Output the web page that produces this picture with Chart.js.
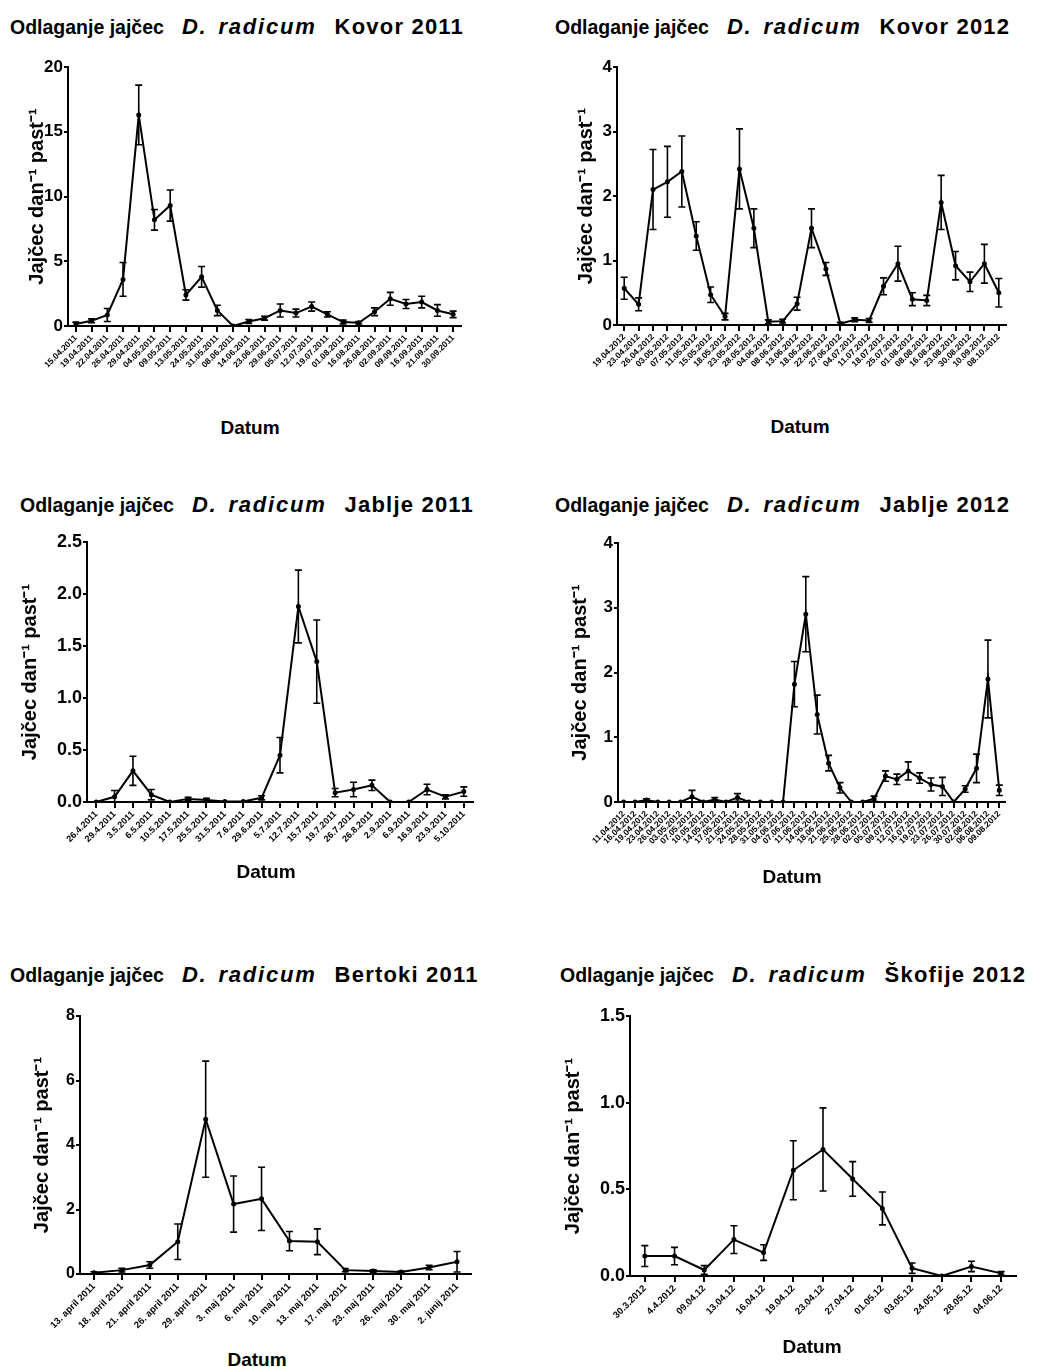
<!DOCTYPE html>
<html>
<head>
<meta charset="utf-8">
<script src="https://cdn.jsdelivr.net/npm/chart.js@4"></script>
<style>
  body { margin: 0; background: #fff; width: 1048px; height: 1367px; overflow: hidden; position: relative; font-family: "Liberation Sans", Arial, sans-serif; }
  canvas { position: absolute; }
  .ttl { position: absolute; font-weight: bold; line-height: 24px; white-space: nowrap; color: #000; display: flex; align-items: baseline; gap: 18px; }
  .ttl .a { font-size: 19.5px; }
  .ttl .b { font-size: 22px; font-style: italic; letter-spacing: 1.8px; word-spacing: 3px; }
  .ttl .c { font-size: 22px; letter-spacing: 1.2px; }
  .xt { position: absolute; font-weight: bold; font-size: 19px; line-height: 24px; transform: translateX(-50%); color: #000; }
</style>
</head>
<body>

<script>
// ---- Kovor 2011
const kovor11Labels = ['15.04.2011','19.04.2011','22.04.2011','26.04.2011','29.04.2011','04.05.2011','09.05.2011','13.05.2011','24.05.2011','31.05.2011','08.06.2011','14.06.2011','23.06.2011','29.06.2011','05.07.2011','12.07.2011','19.07.2011','01.08.2011','16.08.2011','26.08.2011','02.09.2011','09.09.2011','16.09.2011','21.09.2011','30.09.2011'];
const kovor11Mean = [0.15, 0.4, 0.85, 3.6, 16.3, 8.2, 9.3, 2.4, 3.8, 1.2, 0.0, 0.35, 0.6, 1.2, 1.0, 1.5, 0.9, 0.3, 0.25, 1.1, 2.1, 1.7, 1.85, 1.2, 0.9];
const kovor11Err  = [0.15, 0.15, 0.5, 1.3, 2.3, 0.8, 1.2, 0.4, 0.8, 0.4, 0, 0.15, 0.15, 0.5, 0.3, 0.35, 0.2, 0.15, 0.1, 0.3, 0.5, 0.35, 0.45, 0.45, 0.25];

// ---- Kovor 2012
const kovor12Labels = ['19.04.2012','23.04.2012','26.04.2012','03.05.2012','07.05.2012','11.05.2012','15.05.2012','18.05.2012','23.05.2012','28.05.2012','04.06.2012','08.06.2012','13.06.2012','18.06.2012','22.06.2012','27.06.2012','04.07.2012','11.07.2012','18.07.2012','25.07.2012','01.08.2012','08.08.2012','16.08.2012','23.08.2012','30.08.2012','10.09.2012','08.10.2012'];
const kovor12Mean = [0.57, 0.32, 2.1, 2.22, 2.38, 1.38, 0.47, 0.13, 2.42, 1.5, 0.05, 0.06, 0.33, 1.5, 0.87, 0.02, 0.08, 0.07, 0.6, 0.95, 0.4, 0.38, 1.9, 0.92, 0.67, 0.95, 0.5];
const kovor12Err  = [0.17, 0.1, 0.62, 0.55, 0.55, 0.22, 0.12, 0.05, 0.62, 0.3, 0.03, 0.03, 0.1, 0.3, 0.1, 0.02, 0.03, 0.03, 0.13, 0.27, 0.1, 0.08, 0.42, 0.22, 0.15, 0.3, 0.22];

// ---- Jablje 2011
const jablje11Labels = ['26.4.2011','29.4.2011','3.5.2011','6.5.2011','10.5.2011','17.5.2011','25.5.2011','31.5.2011','7.6.2011','29.6.2011','5.7.2011','12.7.2011','15.7.2011','19.7.2011','26.7.2011','26.8.2011','2.9.2011','6.9.2011','16.9.2011','23.9.2011','5.10.2011'];
const jablje11Mean = [0, 0.05, 0.3, 0.07, 0, 0.03, 0.02, 0.005, 0.005, 0.04, 0.45, 1.88, 1.35, 0.09, 0.12, 0.16, 0, 0, 0.12, 0.05, 0.1];
const jablje11Err  = [0, 0.06, 0.14, 0.05, 0, 0.015, 0.015, 0, 0, 0.02, 0.17, 0.35, 0.4, 0.04, 0.07, 0.05, 0, 0, 0.05, 0.02, 0.045];

// ---- Jablje 2012
const jablje12Labels = ['11.04.2012','16.04.2012','19.04.2012','23.04.2012','26.04.2012','03.05.2012','07.05.2012','10.05.2012','14.05.2012','17.05.2012','21.05.2012','24.05.2012','28.05.2012','31.05.2012','04.06.2012','07.06.2012','11.06.2012','14.06.2012','18.06.2012','21.06.2012','25.06.2012','28.06.2012','02.07.2012','05.07.2012','09.07.2012','12.07.2012','16.07.2012','19.07.2012','23.07.2012','26.07.2012','30.07.2012','02.08.2012','06.08.2012','09.08.2012'];
const jablje12Mean = [0, 0, 0.03, 0, 0, 0, 0.08, 0, 0.04, 0, 0.07, 0, 0, 0, 0, 1.82, 2.9, 1.35, 0.6, 0.22, 0, 0, 0.05, 0.4, 0.35, 0.48, 0.37, 0.27, 0.24, 0, 0.2, 0.52, 1.9, 0.18];
const jablje12Err  = [0, 0, 0.02, 0, 0, 0, 0.1, 0, 0.03, 0, 0.06, 0, 0, 0, 0, 0.35, 0.58, 0.3, 0.12, 0.08, 0, 0, 0.04, 0.08, 0.08, 0.14, 0.08, 0.1, 0.14, 0, 0.05, 0.22, 0.6, 0.08];

// ---- Bertoki 2011
const bertoki11Labels = ['13. april 2011','18. april 2011','21. april 2011','26. april 2011','29. april 2011','3. maj 2011','6. maj 2011','10. maj 2011','13. maj 2011','17. maj 2011','23. maj 2011','26. maj 2011','30. maj 2011','2. junij 2011'];
const bertoki11Mean = [0.04, 0.12, 0.28, 1.0, 4.8, 2.17, 2.33, 1.02, 1.0, 0.12, 0.09, 0.06, 0.2, 0.38];
const bertoki11Err  = [0.03, 0.06, 0.1, 0.55, 1.8, 0.87, 0.98, 0.3, 0.4, 0.05, 0.04, 0.03, 0.07, 0.32];

// ---- Škofije 2012
const skofije12Labels = ['30.3.2012','4.4.2012','09.04.12','13.04.12','16.04.12','19.04.12','23.04.12','27.04.12','01.05.12','03.05.12','24.05.12','28.05.12','04.06.12'];
const skofije12Mean = [0.115, 0.115, 0.035, 0.21, 0.135, 0.61, 0.73, 0.56, 0.39, 0.045, 0.0, 0.055, 0.015];
const skofije12Err  = [0.06, 0.05, 0.025, 0.08, 0.045, 0.17, 0.24, 0.1, 0.095, 0.03, 0, 0.03, 0.01];

const yTitle = 'Jajčec dan⁻¹ past⁻¹';

Chart.defaults.font.family = '"Liberation Sans", Arial, sans-serif';
Chart.defaults.color = '#000';

// draws the SEM whiskers through the chart's own scales
const errorBars = {
  id: 'errorBars',
  afterDatasetsDraw(chart) {
    const { ctx, scales: { x, y } } = chart;
    const ds = chart.data.datasets[0];
    ctx.save();
    ctx.strokeStyle = '#000';
    ctx.lineWidth = 1.6;
    ds.data.forEach((v, i) => {
      const e = ds.errors[i];
      if (!e) return;
      const px = x.getPixelForValue(i);
      const top = y.getPixelForValue(v + e);
      const bot = y.getPixelForValue(Math.max(v - e, 0));
      ctx.beginPath();
      ctx.moveTo(px, top); ctx.lineTo(px, bot);
      ctx.moveTo(px - 3.5, top); ctx.lineTo(px + 3.5, top);
      ctx.moveTo(px - 3.5, bot); ctx.lineTo(px + 3.5, bot);
      ctx.stroke();
    });
    ctx.restore();
  }
};

function addTitle(place, left, top) {
  const d = document.createElement('div');
  d.className = 'ttl';
  d.innerHTML = '<span class="a">Odlaganje jajčec</span><span class="b">D. radicum</span><span class="c">' + place + '</span>';
  d.style.left = left + 'px';
  d.style.top = top + 'px';
  document.body.appendChild(d);
}

function addDatum(left, top) {
  const d = document.createElement('div');
  d.className = 'xt';
  d.textContent = 'Datum';
  d.style.left = left + 'px';
  d.style.top = top + 'px';
  document.body.appendChild(d);
}

function makePanel(p) {
  const padTop = 12, padRight = 4;
  const cv = document.createElement('canvas');
  const W = p.right - p.L + padRight;
  const H = (p.bottom - p.top) + padTop + p.xh;
  cv.width = W; cv.height = H;
  cv.style.left = p.L + 'px';
  cv.style.top = (p.top - padTop) + 'px';
  document.body.appendChild(cv);

  new Chart(cv.getContext('2d'), {
    type: 'line',
    data: {
      labels: p.labels,
      datasets: [{
        data: p.mean,
        errors: p.err,
        borderColor: '#000',
        borderWidth: 2,
        pointRadius: 1.5,
        pointBackgroundColor: '#000',
        pointBorderColor: '#000',
        tension: 0
      }]
    },
    options: {
      responsive: false,
      animation: false,
      layout: { padding: { top: padTop, right: padRight, left: 0, bottom: 0 } },
      plugins: { legend: { display: false }, tooltip: { enabled: false } },
      scales: {
        x: {
          offset: true,
          border: { color: '#000', width: 2 },
          grid: { drawOnChartArea: false, color: '#000', lineWidth: 2, tickLength: 6 },
          ticks: {
            autoSkip: false, minRotation: 45, maxRotation: 45, padding: 1,
            font: { size: p.xFont, weight: 'bold' }
          },
          afterFit(s) { s.height = p.xh; }
        },
        y: {
          min: 0, max: p.yMax,
          border: { color: '#000', width: 2 },
          grid: { drawOnChartArea: false, color: '#000', lineWidth: 2, tickLength: 4 },
          ticks: {
            stepSize: p.step, padding: 1,
            font: { size: p.yFont, weight: 'bold' },
            callback: v => p.dec ? v.toFixed(1) : v
          },
          title: {
            display: true, text: yTitle,
            font: { size: 20, weight: 'bold' },
            padding: { top: p.titleX - p.L - 12, bottom: 0 }
          },
          afterFit(s) { s.width = p.left - p.L; }
        }
      }
    },
    plugins: [errorBars]
  });

  addTitle(p.place, p.ttlX, p.ttlY);
  addDatum(p.datumX, p.datumY);
}

makePanel({ labels: kovor11Labels, mean: kovor11Mean, err: kovor11Err, yMax: 20, step: 5,
  L: 10, left: 68, right: 463, top: 67, bottom: 326, xh: 80, xFont: 8.5, yFont: 17, titleX: 37,
  place: 'Kovor 2011', ttlX: 10, ttlY: 15, datumX: 250, datumY: 416 });
makePanel({ labels: kovor12Labels, mean: kovor12Mean, err: kovor12Err, yMax: 4, step: 1,
  L: 540, left: 617, right: 1008, top: 67, bottom: 325, xh: 80, xFont: 8.5, yFont: 17, titleX: 586,
  place: 'Kovor 2012', ttlX: 555, ttlY: 15, datumX: 800, datumY: 415 });
makePanel({ labels: jablje11Labels, mean: jablje11Mean, err: jablje11Err, yMax: 2.5, step: 0.5, dec: true,
  L: 10, left: 87, right: 475, top: 542, bottom: 802, xh: 62, xFont: 9, yFont: 18, titleX: 30,
  place: 'Jablje 2011', ttlX: 20, ttlY: 493, datumX: 266, datumY: 860 });
makePanel({ labels: jablje12Labels, mean: jablje12Mean, err: jablje12Err, yMax: 4, step: 1,
  L: 540, left: 618, right: 1007, top: 543, bottom: 802, xh: 66, xFont: 8.5, yFont: 17, titleX: 580,
  place: 'Jablje 2012', ttlX: 555, ttlY: 493, datumX: 792, datumY: 865 });
makePanel({ labels: bertoki11Labels, mean: bertoki11Mean, err: bertoki11Err, yMax: 8, step: 2,
  L: 10, left: 80, right: 473, top: 1016, bottom: 1274, xh: 70, xFont: 9.5, yFont: 16, titleX: 42,
  place: 'Bertoki 2011', ttlX: 10, ttlY: 963, datumX: 257, datumY: 1348 });
makePanel({ labels: skofije12Labels, mean: skofije12Mean, err: skofije12Err, yMax: 1.5, step: 0.5, dec: true,
  L: 540, left: 630, right: 1018, top: 1016, bottom: 1276, xh: 60, xFont: 9.5, yFont: 18, titleX: 573,
  place: 'Škofije 2012', ttlX: 560, ttlY: 963, datumX: 812, datumY: 1335 });
</script>
</body>
</html>
